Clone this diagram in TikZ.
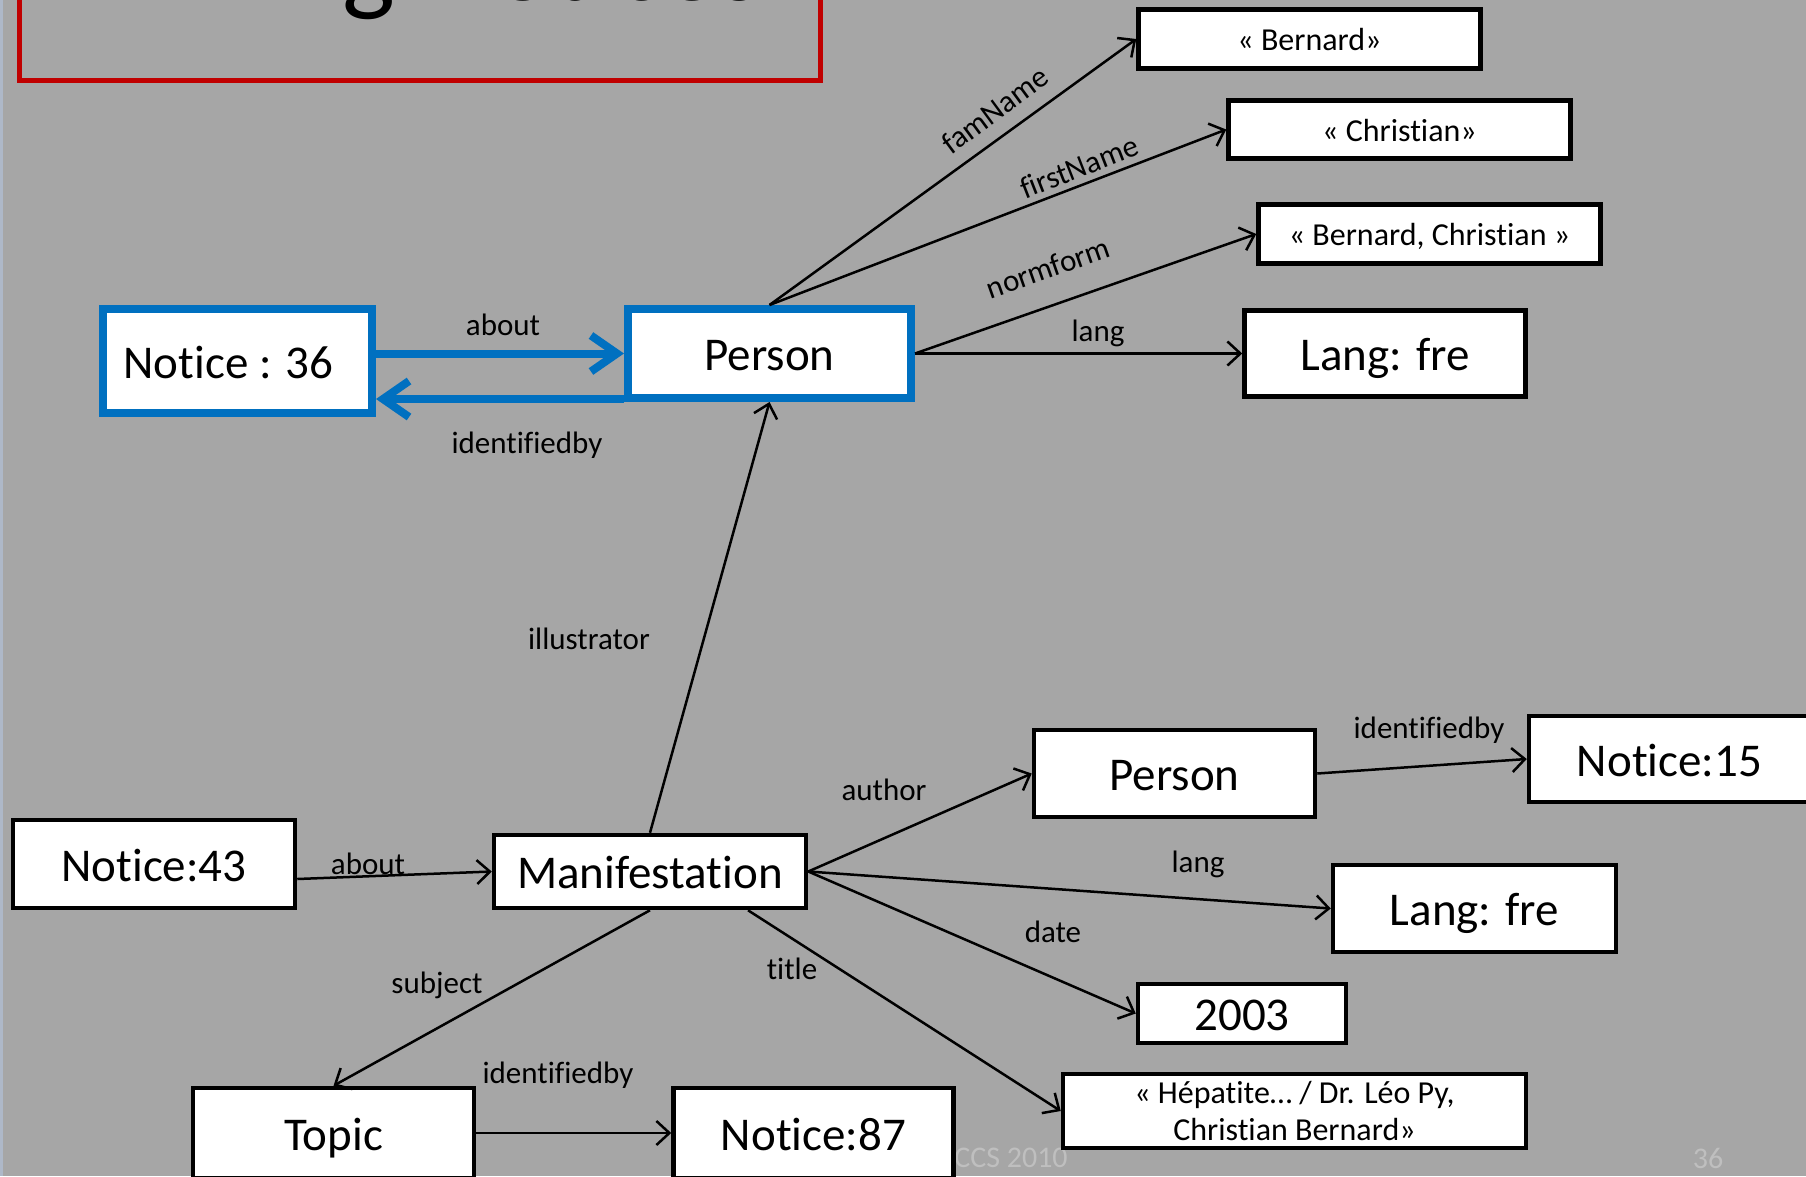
\documentclass[tikz,border=0pt]{standalone}
\usepackage{fontspec}
\setmainfont[Ligatures=NoCommon]{Carlito}
\usetikzlibrary{arrows.meta,calc}
\definecolor{bg}{HTML}{A6A6A6}
\definecolor{blu}{HTML}{0070C0}
\definecolor{redd}{HTML}{C00000}
\definecolor{foot}{HTML}{BFBFBF}
\definecolor{strip}{HTML}{AEB8C8}
\begin{document}
\begin{tikzpicture}[x=1pt,y=-1pt,
  boxbase/.style={draw=black, line width=4.5pt, fill=white, inner sep=0pt},
  box/.style={boxbase, font=\fontsize{47}{50}\selectfont, text height=34.8pt, text depth=0pt},
  sbox/.style={boxbase, font=\fontsize{32}{37}\selectfont, text height=23.7pt, text depth=0pt},
  mbox/.style={boxbase, font=\fontsize{32}{37}\selectfont, align=center},
  bbox/.style={box, draw=blu, line width=8pt},
  lbl/.style={font=\fontsize{31}{34}\selectfont, inner sep=0pt},
  arr/.style={line width=2.5pt, -{Straight Barb[length=13pt,width=24pt]}},
  barr/.style={draw=blu, line width=8pt, -{Straight Barb[length=26pt,width=36pt]}},
]
\useasboundingbox (0,0) rectangle (1806,1176);
\fill[bg] (0,0) rectangle (1806,1176);
\fill[strip] (0,0) rectangle (3,1176);

% title
\draw[redd, line width=5pt] (19,-60) rectangle (820,80);
\node[anchor=base, inner sep=0pt, font=\fontsize{112}{120}\selectfont] (title) at (419,0) {Linking Notices};

% footer
\node[font=\fontsize{30}{32}\selectfont, text=foot] (ccs) at (1011,1158) {CCS 2010};
\node[font=\fontsize{30}{32}\selectfont, text=foot] (pg) at (1708,1158) {36};

% nodes
\node[bbox, minimum width=269, minimum height=104] (n36) at (237.5,361) {Notice : 36\kern18pt};
\node[bbox, minimum width=283, minimum height=89] (pt) at (769.5,353.5) {Person};
\node[sbox, minimum width=342, minimum height=59] (bern) at (1309.5,39) {« Bernard»};
\node[sbox, minimum width=342, minimum height=58] (chr) at (1399.5,129.5) {« Christian»};
\node[sbox, minimum width=342, minimum height=59] (bc) at (1429.5,234) {« Bernard, Christian »};
\node[box, minimum width=281, minimum height=86] (langA) at (1385,353.5) {Lang: fre};
\node[box, minimum width=281, minimum height=87] (p2) at (1174.5,773.5) {Person};
\node[box, minimum width=281, minimum height=86] (n15) at (1669.5,759) {Notice:15};
\node[box, minimum width=282, minimum height=88] (n43) at (154,864) {Notice:43};
\node[box, minimum width=312, minimum height=73] (man) at (650,871.5) {Manifestation};
\node[box, minimum width=283, minimum height=87] (langB) at (1474.5,908.5) {Lang: fre};
\node[box, minimum width=208, minimum height=59] (d2003) at (1242,1013.5) {2003};
\node[mbox, minimum width=463, minimum height=74] (hep) at (1294.5,1111) {« Hépatite… / Dr. Léo Py,\\ Christian Bernard»};
\node[box, minimum width=281, minimum height=90] (topic) at (333.5,1133) {Topic};
\node[box, minimum width=280, minimum height=90] (n87) at (813.5,1133) {Notice:87};

% blue connectors
\coordinate (idb) at ([yshift=3pt]pt.south west);
\draw[barr] (n36.east |- pt.west) -- (pt.west);
\draw[barr] (idb) -- (idb -| n36.east);

% black connectors
\draw[arr] (pt.north) -- (bern.west);
\draw[arr] (pt.north) -- (chr.west);
\draw[arr] (pt.east) -- (bc.west);
\draw[arr] (pt.east) -- (langA.west);
\draw[arr] (man.north) -- (pt.south);
\draw[arr] ([yshift=-15pt]n43.east) -- (man.west);
\draw[arr] (man.east) -- (p2.west);
\draw[arr] (man.east) -- (langB.west);
\draw[arr] (man.east) -- (d2003.west);
\draw[arr] ([xshift=98pt]man.south) -- (hep.west);
\draw[arr] (man.south) -- (topic.north);
\draw[arr] (topic.east) -- (n87.west);
\draw[arr] (p2.east) -- (n15.west);

% labels
\node[lbl] (l1) at (503,325) {about};
\node[lbl] (l2) at (527,445) {identifiedby};
\node[lbl, rotate=36.4] (l3) at (995,110) {famName};
\node[lbl, rotate=21.3] (l4) at (1079,167) {firstName};
\node[lbl, rotate=19.3] (l5) at (1048,268) {normform};
\node[lbl] (l6) at (1098,333) {lang};
\node[lbl] (l7) at (589,639) {illustrator};
\node[lbl] (l8) at (368,864) {about};
\node[lbl] (l9) at (884,790) {author};
\node[lbl] (l10) at (1198,864) {lang};
\node[lbl] (l11) at (1053,932) {date};
\node[lbl] (l12) at (792,969) {title};
\node[lbl] (l13) at (437,985) {subject};
\node[lbl] (l14) at (558,1075) {identifiedby};
\node[lbl] (l15) at (1429,730) {identifiedby};
\end{tikzpicture}
\end{document}
